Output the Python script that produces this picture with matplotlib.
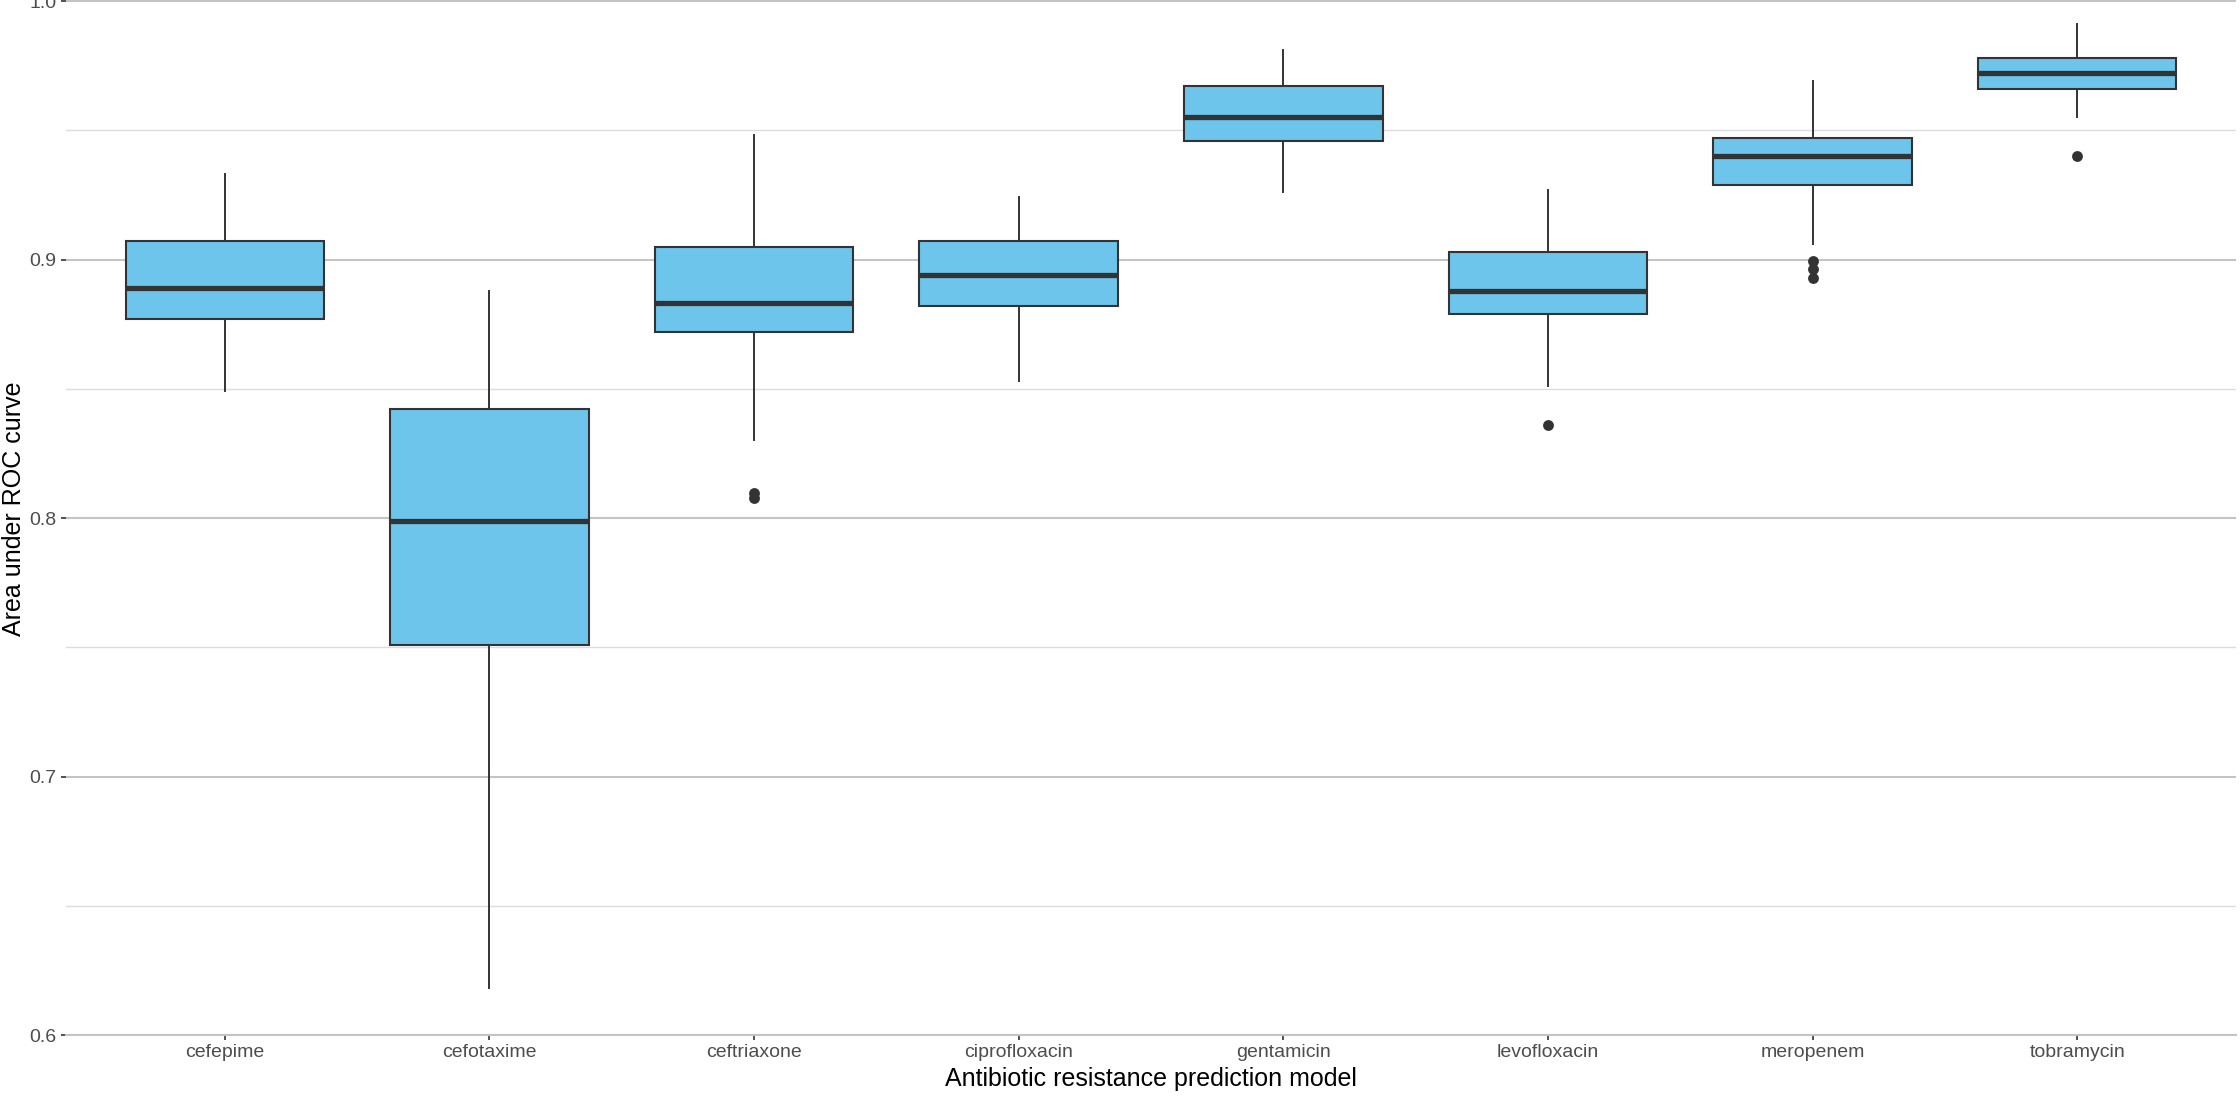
import numpy as np
import matplotlib; matplotlib.use("Agg")
import matplotlib.pyplot as plt
from matplotlib.ticker import MultipleLocator

plt.rcParams["font.family"] = ["Liberation Sans", "DejaVu Sans"]

# AUC box stats per model
models = ["cefepime", "cefotaxime", "ceftriaxone", "ciprofloxacin",
          "gentamicin", "levofloxacin", "meropenem", "tobramycin"]
whis_lo = [0.849, 0.618, 0.830, 0.853, 0.926, 0.851, 0.906, 0.955]
q1      = [0.877, 0.751, 0.872, 0.882, 0.946, 0.879, 0.929, 0.966]
median  = [0.889, 0.799, 0.883, 0.894, 0.955, 0.888, 0.940, 0.972]
q3      = [0.907, 0.842, 0.905, 0.907, 0.967, 0.903, 0.947, 0.978]
whis_hi = [0.933, 0.888, 0.948, 0.924, 0.981, 0.927, 0.969, 0.991]
outliers = [[], [], [0.8097, 0.8077], [], [], [0.836], [0.8996, 0.8963, 0.8930], [0.940]]

FILL = "#6DC5EB"; INK = "#333333"
W, H = 2240, 1096

stats = [dict(label=m, whislo=a, q1=b, med=c, q3=d, whishi=e, fliers=f)
         for m, a, b, c, d, e, f in zip(models, whis_lo, q1, median, q3, whis_hi, outliers)]

fig = plt.figure(figsize=(W / 200, H / 200), dpi=200)
ax = fig.add_axes([66 / W, (H - 1035) / H, 2170 / W, 1035 / H])

pos = np.arange(1, len(models) + 1)
ax.bxp(stats, positions=pos, widths=0.75, patch_artist=True, showcaps=False,
       boxprops=dict(facecolor=FILL, edgecolor=INK, lw=0.75),
       medianprops=dict(color=INK, lw=1.9, solid_capstyle="butt"),
       whiskerprops=dict(color=INK, lw=0.7),
       flierprops=dict(marker="o", markersize=2.9, markerfacecolor=INK, markeredgecolor=INK, lw=0))

ax.set_xlim(0.4, len(models) + 0.6)
ax.set_ylim(0.6, 1.0 + 10 / 2560 * 0.1)
ax.yaxis.set_minor_locator(MultipleLocator(0.05))
ax.set_yticks([0.6, 0.7, 0.8, 0.9, 1.0])
ax.set_yticklabels(["0.6", "0.7", "0.8", "0.9", "1.0"])
ax.set_xticks(pos)
ax.set_xticklabels(models)

ax.set_axisbelow(True)
ax.grid(axis="y", which="major", color="#C4C4C4", lw=0.75)
ax.grid(axis="y", which="minor", color="#DCDCDC", lw=0.5)
ax.grid(axis="x", which="major", color="white", lw=1.0)
for s in ["top", "right", "left"]:
    ax.spines[s].set_visible(False)
ax.spines["bottom"].set_color("#C4C4C4"); ax.spines["bottom"].set_lw(0.75)

ax.tick_params(axis="both", which="major", length=1.8, width=0.6, color=INK,
               labelsize=7.0, labelcolor="#4D4D4D", pad=1.6)
ax.tick_params(axis="y", which="minor", length=0)

fig.text(1151 / W, (H - 1086) / H, "Antibiotic resistance prediction model",
         fontsize=9.0, color="black", ha="center", va="baseline")
fig.text(14.3 / W, (H - 509) / H, "Area under ROC curve", rotation=90,
         fontsize=9.0, color="black", ha="center", va="center")

fig.savefig("out.png", dpi=200)
